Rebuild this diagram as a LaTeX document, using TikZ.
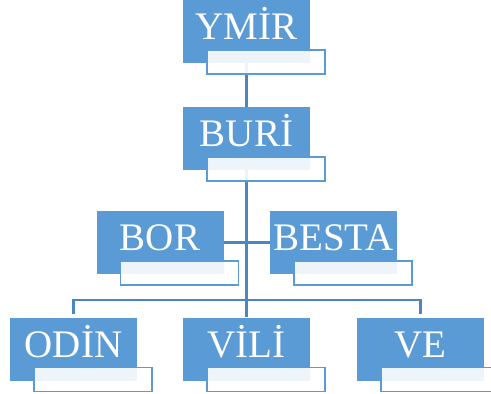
\documentclass[tikz,border=0pt]{standalone}
\usepackage{fontspec}
\setmainfont{Liberation Serif}
\usetikzlibrary{backgrounds}
\definecolor{boxblue}{RGB}{91,155,213}
\definecolor{linkblue}{RGB}{74,134,192}

\begin{document}
\begin{tikzpicture}[x=1pt, y=1pt,
        person/.style={fill=boxblue, text=white, inner sep=0pt,
            minimum width=127pt, minimum height=63pt,
            font=\fontsize{39}{39}\selectfont, text height=25pt, text depth=9pt},
        subbox/.style={draw=boxblue, line width=1.6pt, fill=white, fill opacity=0.9},
        link/.style={draw=linkblue, line width=2.4pt}]
        \useasboundingbox (0,0) rectangle (491,-394);
        \node[person] (ymir)  at (246.5,-31.5) {YMİR};
        \node[person] (buri)  at (246.5,-138.5) {BURİ};
        \node[person] (bor)   at (160,-242.5) {BOR};
        \node[person] (besta) at (333.5,-242.5) {BESTA};
        \node[person] (odin)  at (73.5,-349) {ODİN};
        \node[person] (vili)  at (246.5,-349) {VİLİ};
        \node[person] (ve)    at (420.5,-349) {VE};
        \coordinate (fork) at (246.5,-300);
        \foreach \n in {ymir,buri,bor,besta,odin,vili,ve} {
            \draw[subbox] ([shift={(24,-50)}]\n.north west) rectangle ++(118,-24);
        }
        \begin{scope}[on background layer]
            \draw[link] (ymir) -- (buri);
            \draw[link] (buri) -- (vili);
            \draw[link] (bor) -- (besta);
            \draw[link] ([yshift=3pt]odin.north) |- (fork) -| ([yshift=3pt]ve.north);
        \end{scope}
    \end{tikzpicture}
\end{document}
